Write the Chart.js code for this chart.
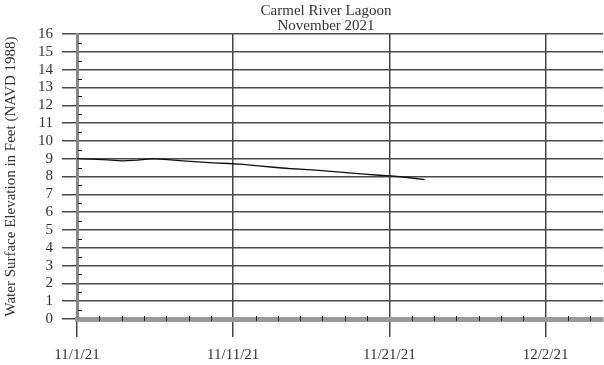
<!DOCTYPE html>
<html>
<head>
<meta charset="utf-8">
<script src="https://cdn.jsdelivr.net/npm/chart.js@4"></script>
<style>
  html, body { margin: 0; padding: 0; background: #fff; }
  #wrap { width: 604px; height: 365px; }
</style>
</head>
<body>
<div id="wrap"><canvas id="chart"></canvas></div>
<script>
// data: days since 11/1/21 and lagoon elevation (ft NAVD 1988)
const days = [0,1,2,3,4,5,6,7,8,9,10,11,12,13,14,15,16,17,18,19,20,21,22,23];
const elevation = [9.0,8.98,8.93,8.88,8.92,9.0,8.95,8.88,8.82,8.77,8.73,8.68,8.6,8.52,8.45,8.4,8.34,8.27,8.2,8.13,8.07,8.02,7.93,7.82];
const dateLabels = ['11/1/21','11/11/21','11/21/21','12/2/21'];
const titleLines = ['Carmel River Lagoon','November 2021'];
const yTitle = 'Water Surface Elevation in Feet (NAVD 1988)';

const minorStep = 31/21;   // 7 minor ticks between date labels
const xMax = 34.8;
const serif = 'Liberation Serif';

// title lines + little minor tick marks on both axes
const extras = {
  id: 'extras',
  afterDraw(chart){
    const ctx = chart.ctx, a = chart.chartArea;
    const xs = chart.scales.x, ys = chart.scales.y;
    ctx.save();
    ctx.fillStyle = '#333';
    ctx.font = '15px "' + serif + '"';
    ctx.textAlign = 'center';
    ctx.textBaseline = 'middle';
    titleLines.forEach((t,i)=> ctx.fillText(t, chart.width/2 + 24, 11 + i*15));

    ctx.strokeStyle = '#222';
    ctx.lineWidth = 1;
    ctx.beginPath();
    for(let v=0.5; v<16; v+=1){
      const y = Math.round(ys.getPixelForValue(v)) + 0.5;
      ctx.moveTo(a.left+1, y); ctx.lineTo(a.left+5, y);
    }
    for(let k=1; k*minorStep<=xMax; k++){
      if(k%7===0) continue;
      const x = Math.round(xs.getPixelForValue(k*minorStep)) + 0.5;
      ctx.moveTo(x, a.bottom-3); ctx.lineTo(x, a.bottom+2);
    }
    ctx.stroke();
    ctx.restore();
  }
};

new Chart(document.getElementById('chart'), {
  type: 'line',
  data: {
    datasets: [{
      data: days.map((d,i)=>({x:d, y:elevation[i]})),
      borderColor: '#111',
      borderWidth: 1.3,
      pointRadius: 0,
      tension: 0,
      fill: false
    }]
  },
  options: {
    responsive: true,
    maintainAspectRatio: false,
    animation: false,
    layout: { padding: { top: 34, right: 1, left: 0, bottom: 0 } },
    plugins: { legend: { display: false }, title: { display: false }, tooltip: { enabled: false } },
    scales: {
      x: {
        type: 'linear',
        min: 0, max: xMax,
        afterBuildTicks: s => {
          const t = [];
          for(let k=0; k*minorStep<=xMax+1e-9; k++) t.push({value:k*minorStep});
          s.ticks = t;
        },
        afterFit: s => { s.height = 46; },
        ticks: {
          autoSkip: false, maxRotation: 0, padding: 9,
          color: '#333', font: { family: serif, size: 15 },
          callback: (v,i) => i%7===0 ? (dateLabels[i/7] || '') : ''
        },
        grid: {
          color: c => (c.index%7===0) ? '#444' : 'rgba(0,0,0,0)',
          lineWidth: 1.5,
          tickLength: 18
        },
        border: { display: true, color: '#999', width: 5 }
      },
      y: {
        min: 0, max: 16,
        afterFit: s => { s.width = 77; },
        ticks: { stepSize: 1, autoSkip: false, padding: 9, color: '#333', font: { family: serif, size: 15 } },
        grid: { color: '#4a4a4a', lineWidth: 1.5, tickLength: 15 },
        border: { display: true, color: '#888', width: 3 },
        title: {
          display: true, text: yTitle, color: '#333',
          font: { family: serif, size: 15 },
          padding: { top: 2, bottom: 0 }
        }
      }
    }
  },
  plugins: [extras]
});
</script>
</body>
</html>
